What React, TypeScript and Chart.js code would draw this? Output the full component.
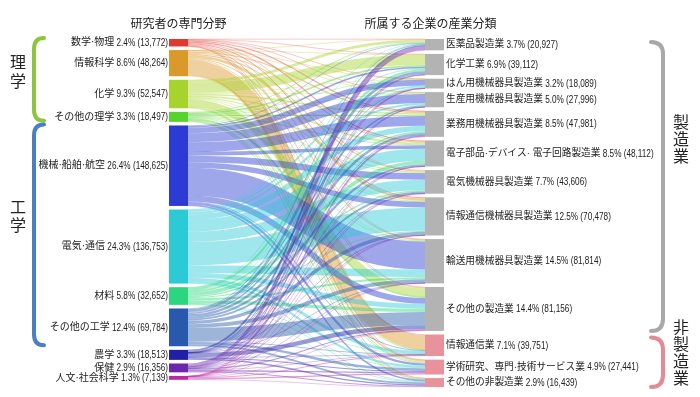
import { useEffect, useRef } from "react";
import { Chart, registerables } from "chart.js";

Chart.register(...registerables);

// ---------- data ----------
const sourceNames = ["数学·物理", "情報科学", "化学", "その他の理学", "機械·船舶·航空", "電気·通信", "材料", "その他の工学", "農学", "保健", "人文·社会科学"];
const sourceValues = [13772, 48264, 52547, 18497, 148625, 136753, 32652, 69784, 18513, 16356, 7139];
const sourceShares = ["2.4%", "8.6%", "9.3%", "3.3%", "26.4%", "24.3%", "5.8%", "12.4%", "3.3%", "2.9%", "1.3%"];
const sourceColors = ["#e0392e", "#d99a2b", "#a6d42c", "#58d32d", "#2b3bd3", "#2cc9d6", "#2bd67c", "#275aad", "#2020a4", "#6d25ad", "#c025a4"];

const targetNames = ["医薬品製造業", "化学工業", "はん用機械器具製造業", "生産用機械器具製造業", "業務用機械器具製造業", "電子部品·デバイス· 電子回路製造業", "電気機械器具製造業", "情報通信機械器具製造業", "輸送用機械器具製造業", "その他の製造業", "情報通信業", "学術研究、専門·技術サービス業", "その他の非製造業"];
const targetValues = [20927, 39112, 18089, 27996, 47981, 48112, 43606, 70478, 81814, 81156, 39751, 27441, 16439];
const targetShares = ["3.7%", "6.9%", "3.2%", "5.0%", "8.5%", "8.5%", "7.7%", "12.5%", "14.5%", "14.4%", "7.1%", "4.9%", "2.9%"];
const targetColors = ["#b3b3b3", "#b3b3b3", "#b3b3b3", "#b3b3b3", "#b3b3b3", "#b3b3b3", "#b3b3b3", "#b3b3b3", "#b3b3b3", "#b3b3b3", "#e8929c", "#e8929c", "#e8929c"];

// flows (persons): row = source, column = target
const flowsMathPhys = [500, 1000, 400, 800, 2000, 2200, 1000, 1800, 1000, 1200, 1000, 700, 200];
const flowsInfoSci = [500, 500, 500, 1000, 2500, 2000, 2000, 5000, 2000, 1500, 27000, 2800, 1000];
const flowsChem = [5000, 19000, 700, 1000, 3000, 3000, 2000, 1000, 1000, 14000, 300, 2000, 500];
const flowsOtherSci = [1500, 3000, 500, 500, 2000, 1500, 800, 800, 800, 3500, 600, 1500, 1500];
const flowsMech = [1000, 3000, 10600, 16600, 18000, 6600, 12200, 10000, 51500, 11000, 1500, 4000, 2600];
const flowsElec = [500, 1500, 3000, 4000, 10000, 22000, 19000, 43000, 14000, 9000, 5500, 4000, 1300];
const flowsMaterial = [500, 4000, 800, 1000, 3000, 6500, 2500, 2000, 4000, 6000, 200, 1200, 1000];
const flowsOtherEng = [1500, 5000, 1300, 2700, 4500, 4000, 3500, 6500, 7000, 24500, 1500, 4500, 3300];
const flowsAgri = [3500, 1500, 100, 100, 300, 100, 100, 100, 100, 8000, 100, 2000, 2500];
const flowsHealth = [6000, 300, 100, 100, 2500, 100, 400, 100, 100, 2000, 400, 2500, 1800];
const flowsHuman = [400, 400, 100, 200, 200, 100, 100, 200, 300, 500, 1700, 2200, 700];
const flows = [flowsMathPhys, flowsInfoSci, flowsChem, flowsOtherSci, flowsMech, flowsElec, flowsMaterial, flowsOtherEng, flowsAgri, flowsHealth, flowsHuman];

const sourceGroups = [
  { chars: ["理", "学"], from: 0, to: 3, color: "#8cc63f", textY: [64, 83] },
  { chars: ["工", "学"], from: 4, to: 7, color: "#4a7fc1", textY: [209, 227] },
];
const targetGroups = [
  { chars: ["製", "造", "業"], from: 0, to: 9, color: "#a8a8a8", textY: [124, 141, 158] },
  { chars: ["非", "製", "造", "業"], from: 10, to: 12, color: "#e38a95", textY: [329, 346, 363, 380] },
];

const NODE_PAD = 6650; // in persons
const NODE_W = 19;
const FONT = '"Liberation Sans", "Noto Sans CJK JP", sans-serif';
const NUM_SX = 0.82; // condensed look of the number part
const TOTAL = targetValues.reduce((a, b) => a + b, 0) + NODE_PAD * (targetValues.length - 1);

function fmt(n: number) {
  return n.toLocaleString("en-US");
}

function hexA(hex: string, a: number) {
  const r = parseInt(hex.slice(1, 3), 16), g = parseInt(hex.slice(3, 5), 16), b = parseInt(hex.slice(5, 7), 16);
  return `rgba(${r},${g},${b},${a})`;
}

function drawCondensed(ctx: CanvasRenderingContext2D, text: string, x: number, y: number, align: CanvasTextAlign) {
  ctx.save();
  ctx.translate(x, y);
  ctx.scale(NUM_SX, 1);
  ctx.textAlign = align;
  ctx.fillText(text, 0, 0);
  ctx.restore();
}

const sankeyPlugin = {
  id: "sankeyDraw",
  afterDraw(chart: any) {
    const ctx: CanvasRenderingContext2D = chart.ctx;
    const xs = chart.scales.x, ys = chart.scales.y;
    const xL = xs.getPixelForValue(0);
    const xR = xs.getPixelForValue(1);
    const py = (v: number) => ys.getPixelForValue(v);
    const ph = (v: number) => Math.abs(py(v) - py(0));

    const sTop: number[] = [];
    let acc = 0;
    sourceValues.forEach((v) => { sTop.push(acc); acc += v + NODE_PAD; });
    const tTop: number[] = [];
    acc = 0;
    targetValues.forEach((v) => { tTop.push(acc); acc += v + NODE_PAD; });

    ctx.save();
    // links
    const sOff = sourceValues.map(() => 0);
    const tOff = targetValues.map(() => 0);
    const x0 = xL + NODE_W, x1 = xR - NODE_W, xm = (x0 + x1) / 2;
    for (let s = 0; s < flows.length; s++) {
      for (let t = 0; t < targetValues.length; t++) {
        const v = flows[s][t];
        const y0 = py(sTop[s] + sOff[s] + v / 2);
        const y1 = py(tTop[t] + tOff[t] + v / 2);
        sOff[s] += v;
        tOff[t] += v;
        ctx.beginPath();
        ctx.moveTo(x0, y0);
        ctx.bezierCurveTo(xm, y0, xm, y1, x1, y1);
        ctx.lineWidth = Math.max(ph(v), 0.6);
        ctx.strokeStyle = hexA(sourceColors[s], 0.45);
        ctx.stroke();
      }
    }
    // nodes
    sourceValues.forEach((v, i) => {
      ctx.fillStyle = sourceColors[i];
      ctx.fillRect(xL, py(sTop[i]), NODE_W, ph(v));
    });
    targetValues.forEach((v, i) => {
      ctx.fillStyle = targetColors[i];
      ctx.fillRect(xR - NODE_W, py(tTop[i]), NODE_W, ph(v));
    });

    // labels
    ctx.fillStyle = "#222";
    ctx.textBaseline = "middle";
    sourceValues.forEach((v, i) => {
      const yc = py(sTop[i] + v / 2);
      const num = ` ${sourceShares[i]} (${fmt(v)})`;
      ctx.font = `10px ${FONT}`;
      const nw = ctx.measureText(num).width * NUM_SX;
      drawCondensed(ctx, num, xL - 1, yc + 0.5, "right");
      ctx.textAlign = "right";
      ctx.fillText(sourceNames[i], xL - 1 - nw, yc);
    });
    targetValues.forEach((v, i) => {
      const yc = py(tTop[i] + v / 2);
      ctx.textAlign = "left";
      ctx.font = `9.7px ${FONT}`;
      const w = ctx.measureText(targetNames[i]).width;
      ctx.fillText(targetNames[i], xR + 2, yc);
      ctx.font = `10px ${FONT}`;
      drawCondensed(ctx, ` ${targetShares[i]} (${fmt(v)})`, xR + 2 + w, yc + 0.5, "left");
    });

    // titles
    ctx.font = `12px ${FONT}`;
    ctx.textAlign = "center";
    ctx.fillText("研究者の専門分野", xL + NODE_W / 2, 25);
    ctx.fillText("所属する企業の産業分類", xR - NODE_W / 2 - 4, 25);

    // brackets
    ctx.lineWidth = 4;
    ctx.lineCap = "round";
    sourceGroups.forEach((g) => {
      const top = py(sTop[g.from]) - 1;
      const bot = py(sTop[g.to] + sourceValues[g.to]) - 1;
      const xv = 34, xh = 44, r = 11;
      ctx.strokeStyle = g.color;
      ctx.beginPath();
      ctx.moveTo(xh, top);
      ctx.quadraticCurveTo(xv, top, xv, top + r);
      ctx.lineTo(xv, bot - r);
      ctx.quadraticCurveTo(xv, bot, xh, bot);
      ctx.stroke();
      ctx.fillStyle = "#222";
      ctx.font = `16px ${FONT}`;
      g.chars.forEach((c, k) => ctx.fillText(c, 18, g.textY[k]));
    });
    targetGroups.forEach((g) => {
      const top = py(tTop[g.from]) + 3;
      const bot = py(tTop[g.to] + targetValues[g.to]);
      const xv = 663, xh = 651, r = 12;
      ctx.strokeStyle = g.color;
      ctx.beginPath();
      ctx.moveTo(xh, top);
      ctx.quadraticCurveTo(xv, top, xv, top + r);
      ctx.lineTo(xv, bot - r);
      ctx.quadraticCurveTo(xv, bot, xh, bot);
      ctx.stroke();
      ctx.fillStyle = "#222";
      ctx.font = `16px ${FONT}`;
      g.chars.forEach((c, k) => ctx.fillText(c, 681, g.textY[k]));
    });
    ctx.restore();
  },
};

export default function App() {
  const ref = useRef<HTMLCanvasElement | null>(null);
  useEffect(() => {
    document.body.style.margin = "0";
    const chart = new Chart(ref.current as HTMLCanvasElement, {
      type: "scatter",
      data: { datasets: [{ data: [] }] },
      options: {
        animation: false,
        responsive: false,
        devicePixelRatio: 1,
        layout: { padding: { left: 169, right: 256, top: 39, bottom: 10 } },
        plugins: { legend: { display: false }, tooltip: { enabled: false } },
        scales: {
          x: { type: "linear", min: 0, max: 1, display: false },
          y: { type: "linear", min: 0, max: TOTAL, reverse: true, display: false },
        },
      },
      plugins: [sankeyPlugin],
    });
    return () => chart.destroy();
  }, []);
  return (
    <div style={{ width: 700, height: 397, background: "#fff" }}>
      <canvas ref={ref} width={700} height={397} />
    </div>
  );
}
